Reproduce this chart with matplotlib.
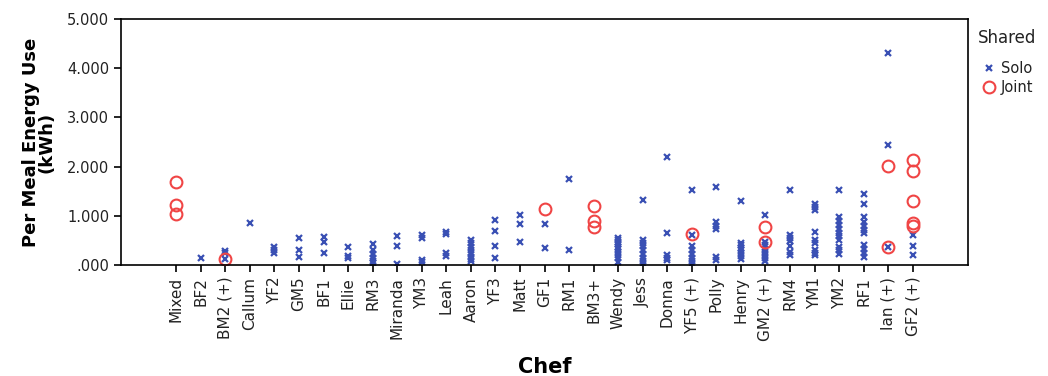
import numpy as np
import matplotlib.pyplot as plt
from matplotlib.ticker import FuncFormatter

# Chefs in plotting order
chefs = ['Mixed', 'BF2', 'BM2 (+)', 'Callum', 'YF2', 'GM5', 'BF1', 'Ellie', 'RM3',
         'Miranda', 'YM3', 'Leah', 'Aaron', 'YF3', 'Matt', 'GF1', 'RM1', 'BM3+',
         'Wendy', 'Jess', 'Donna', 'YF5 (+)', 'Polly', 'Henry', 'GM2 (+)', 'RM4',
         'YM1', 'YM2', 'RF1', 'Ian (+)', 'GF2 (+)']

# Per meal energy use (kWh) for meals cooked alone
solo = [
    [],
    [0.14],
    [0.29, 0.24, 0.12],
    [0.86],
    [0.36, 0.30, 0.25],
    [0.54, 0.30, 0.17],
    [0.56, 0.46, 0.24],
    [0.37, 0.18, 0.14],
    [0.42, 0.30, 0.22, 0.15, 0.09, 0.04],
    [0.58, 0.39, 0.03],
    [0.61, 0.54, 0.10, 0.06],
    [0.68, 0.63, 0.24, 0.19],
    [0.50, 0.44, 0.37, 0.30, 0.24, 0.17, 0.12, 0.08],
    [0.91, 0.70, 0.39, 0.15],
    [1.02, 0.83, 0.46],
    [0.83, 0.35],
    [1.75, 0.30],
    [],
    [0.55, 0.50, 0.46, 0.42, 0.37, 0.32, 0.27, 0.20, 0.14, 0.07],
    [1.33, 0.51, 0.44, 0.38, 0.30, 0.22, 0.15, 0.08, 0.03],
    [2.20, 0.66, 0.20, 0.15, 0.10],
    [1.52, 0.60, 0.39, 0.30, 0.22, 0.15, 0.08, 0.03],
    [1.59, 0.87, 0.80, 0.74, 0.17, 0.10],
    [1.30, 0.44, 0.40, 0.35, 0.30, 0.25, 0.18, 0.12],
    [1.01, 0.47, 0.40, 0.33, 0.27, 0.20, 0.14, 0.08],
    [1.52, 0.61, 0.55, 0.48, 0.38, 0.27, 0.20],
    [1.23, 1.18, 1.12, 0.68, 0.51, 0.44, 0.30, 0.25, 0.20],
    [1.52, 0.98, 0.90, 0.82, 0.74, 0.66, 0.58, 0.50, 0.37, 0.30, 0.22],
    [1.44, 1.23, 0.97, 0.88, 0.80, 0.72, 0.66, 0.40, 0.33, 0.24, 0.17],
    [4.30, 2.44, 0.37],
    [0.61, 0.38, 0.20],
]

# Per meal energy use (kWh) for shared meals
joint = [
    [1.68, 1.22, 1.04],
    [], [0.12], [], [], [], [], [], [], [], [], [], [], [], [],
    [1.14],
    [],
    [1.19, 0.90, 0.77],
    [], [], [],
    [0.64],
    [], [],
    [0.77, 0.47],
    [], [], [], [],
    [2.02, 0.37],
    [2.14, 1.92, 1.30, 0.85, 0.79],
]

blue = '#3a50b4'
red = '#f04545'
txt = '#222222'

fig = plt.figure(figsize=(10.48, 3.76), dpi=100)
ax = fig.add_axes([0.1155, 0.2952, 0.8082, 0.6543])

sx, sy, jx, jy = [], [], [], []
for i, (s, j) in enumerate(zip(solo, joint)):
    sx += [i] * len(s)
    sy += s
    jx += [i] * len(j)
    jy += j

ax.plot(sx, sy, linestyle='none', marker='x', ms=4, mew=1.6, color=blue, label='Solo')
ax.plot(jx, jy, linestyle='none', marker='o', ms=8.5, mew=1.5, mfc='none', mec=red, label='Joint')

ax.set_xlim(-2.25, len(chefs) + 1.25)
ax.set_ylim(0, 5)
ax.set_xticks(np.arange(len(chefs)))
ax.set_xticklabels(chefs, rotation=90, fontsize=11, color=txt)
ax.set_yticks([0, 1, 2, 3, 4, 5])
ax.yaxis.set_major_formatter(FuncFormatter(lambda v, p: '.000' if v == 0 else '%.3f' % v))
ax.tick_params(axis='both', direction='out', length=5, width=1.2, labelsize=10.5,
               labelcolor=txt)
ax.tick_params(axis='x', labelsize=11)
for sp in ax.spines.values():
    sp.set_linewidth(1.2)

ax.set_ylabel('Per Meal Energy Use\n(kWh)', fontsize=13, fontweight='bold',
              linespacing=0.85, labelpad=8)
ax.set_xlabel('Chef', fontsize=15, fontweight='bold', labelpad=12)

# legend, with its heading set apart above the entries
fig.text(978 / 1048, 1 - 38 / 376, 'Shared', fontsize=12, color=txt, va='center', ha='left')
ax.legend(loc='upper left', bbox_to_anchor=(970 / 1048, 1 - 51 / 376),
          bbox_transform=fig.transFigure, frameon=False, fontsize=10.5,
          handletextpad=0.2, handlelength=1.2, labelspacing=0.25, borderpad=0.2,
          labelcolor=txt)

fig.savefig('out.png', dpi=100)
